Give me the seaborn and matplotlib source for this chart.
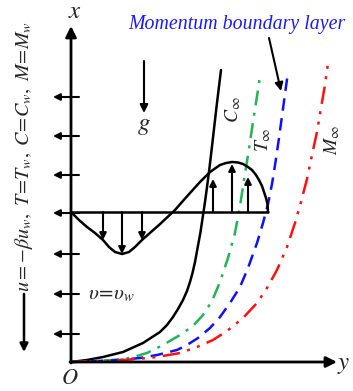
import matplotlib
matplotlib.use("Agg")
import matplotlib.pyplot as plt
import seaborn as sns

sns.set_style("white")
plt.rcParams["font.family"] = ["Liberation Serif", "DejaVu Serif"]
plt.rcParams["mathtext.fontset"] = "stix"

# profiles: horizontal = y (distance from wall), vertical = x (along wall)
c_y = [0, 16, 32, 52, 72, 89, 96, 102, 107, 112, 116, 119, 121.5, 124, 129.5, 134, 138, 141.5, 145.5, 150]
c_x = [0, 2, 5, 10, 19, 30, 37, 45, 53, 62, 71, 80, 89, 100, 130, 160, 190, 220, 255, 292]

t_y = [0, 20, 42, 59, 76, 92, 109, 122, 132, 141, 149, 157, 164, 169, 173, 177, 180.5, 184, 187, 189]
t_x = [0, 1, 2, 4, 9, 17, 27, 36, 47, 61, 80, 104, 129, 156, 182, 207, 230, 253, 272, 286]

mom_y = [0, 25, 49, 69, 86, 106, 116, 127, 139, 149, 159, 169, 177, 186, 192, 197, 201, 204.5, 208, 211, 214, 217]
mom_x = [0, 1, 2, 4, 7, 12, 17, 24, 34, 45, 59, 75, 94, 119, 139, 158, 178, 200, 224, 246, 268, 290]

m_y = [0, 39, 66, 86, 109, 126, 142, 156, 172, 186, 196, 206, 216, 224, 230, 236, 241, 246, 250, 254, 257]
m_x = [0, 1, 3, 5, 9, 15, 22, 31, 44, 59, 74, 92, 115, 139, 160, 183, 207, 230, 254, 277, 299]

# velocity profile around the baseline x0
x0 = 150
u_y = [0, 8, 16, 24, 32, 38, 44, 51, 58, 64, 71, 80, 88, 96, 104,
       111, 119, 129, 139, 149, 155, 161, 167, 172, 177, 181, 185, 188, 191, 193, 195, 196.5, 197]
u_val = [0, -8, -15, -21, -28, -35, -40, -42, -40, -35, -28, -20, -13, -5.5, 2,
         10, 19, 30, 40, 47, 49, 50, 49.5, 48, 45, 42, 37, 32, 26, 20, 14, 8, 0]
down_y = [32, 51, 71]
down_len = [-28, -42, -28]
up_y = [142, 161, 177]
up_len = [33, 48, 35]

# wall suction arrows
wall_x = [265, 226, 187, 149, 108, 68, 28]

fig = plt.figure(figsize=(3.53, 3.91), dpi=100)
ax = fig.add_axes([0, 0, 1, 1])
ax.set_xlim(-71, 282)
ax.set_ylim(-29, 362)
ax.axis("off")

kw = dict(estimator=None, sort=False, ax=ax, legend=False)
sns.lineplot(x=c_y, y=c_x, color="black", lw=1.8, **kw)
sns.lineplot(x=t_y, y=t_x, color="#22b455", lw=1.8, linestyle=(0, (6, 3, 1.2, 3)), **kw)
sns.lineplot(x=mom_y, y=mom_x, color="#1010ff", lw=1.8, linestyle=(0, (5, 3)), **kw)
sns.lineplot(x=m_y, y=m_x, color="#ff1010", lw=1.8, linestyle=(0, (7, 3, 1.2, 3, 1.2, 3)), **kw)

ax.plot([0, 197], [x0, x0], color="black", lw=1.8)
ax.plot(u_y, [x0 + v for v in u_val], color="black", lw=1.8)
for yy, ll in zip(down_y + up_y, down_len + up_len):
    ax.annotate("", xy=(yy, x0 + ll), xytext=(yy, x0),
                arrowprops=dict(arrowstyle="-|>", color="black", lw=1.5,
                                mutation_scale=10, shrinkA=0, shrinkB=0))

# axes
arr = dict(arrowstyle="-|>", color="black", lw=2, mutation_scale=16, shrinkA=0, shrinkB=0)
ax.annotate("", xy=(0, 336), xytext=(0, -1), arrowprops=arr)
ax.annotate("", xy=(266, 0), xytext=(-1, 0), arrowprops=arr)
for xx in wall_x:
    ax.annotate("", xy=(-18, xx), xytext=(8, xx),
                arrowprops=dict(arrowstyle="-|>", color="black", lw=1.5,
                                mutation_scale=10, shrinkA=0, shrinkB=0))

# gravity
ax.annotate("", xy=(73, 249), xytext=(73, 301),
            arrowprops=dict(arrowstyle="-|>", color="black", lw=1.5,
                            mutation_scale=12, shrinkA=0, shrinkB=0))
ax.text(73, 236, r"$g$", fontsize=18, ha="center", va="center")

# boundary layer label
ax.text(166, 337, "Momentum boundary layer", color="#1a1aff", style="italic",
        fontsize=14.3, ha="center", va="center")
ax.annotate("", xy=(210, 271), xytext=(198, 324),
            arrowprops=dict(arrowstyle="-|>", color="black", lw=1.5,
                            mutation_scale=12, shrinkA=0, shrinkB=0))

ax.text(4, 350, r"$x$", fontsize=18, ha="center", va="center")
ax.text(273, -3, r"$y$", fontsize=18, ha="center", va="center")
ax.text(-1, -17, r"$O$", fontsize=16, ha="center", va="center")
ax.text(17, 67, r"$\upsilon\!=\!\upsilon_w$", fontsize=15, ha="left", va="center")

ax.text(162, 252, r"$C_\infty$", fontsize=14, rotation=90, ha="center", va="center")
ax.text(192, 222, r"$T_\infty$", fontsize=14, rotation=90, ha="center", va="center")
ax.text(261, 222, r"$M_\infty$", fontsize=14, rotation=90, ha="center", va="center")

# wall condition label with arrow
ax.annotate("", xy=(-47, 10), xytext=(-47, 68),
            arrowprops=dict(arrowstyle="-|>", color="black", lw=1.8,
                            mutation_scale=12, shrinkA=0, shrinkB=0))
ax.text(-47, 70, r"$u=-\beta u_w,\ T\!=\!T_w,\ C\!=\!C_w,\ M\!=\!M_w$",
        fontsize=14.5, rotation=90, ha="center", va="bottom")

fig.savefig("out.png", dpi=100)
